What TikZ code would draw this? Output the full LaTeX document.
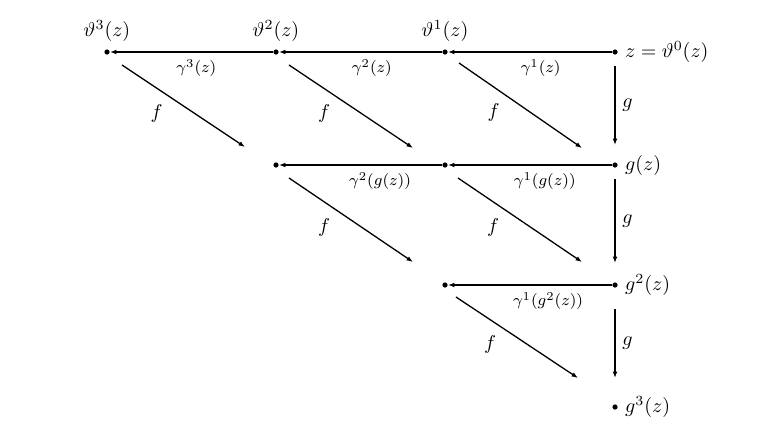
\documentclass[tikz,border=0pt]{standalone}
\usetikzlibrary{arrows.meta}
\begin{document}
\begin{tikzpicture}[x=0.5pt,y=-0.5pt,
  dot/.style={circle,fill=black,inner sep=0pt,minimum size=2.6pt},
  conn/.style={line width=0.65pt,-{Latex[length=3.2pt,width=2.4pt]}},
  glab/.style={font=\footnotesize,below},
  flab/.style={pos=0.5,xshift=-13.5pt,yshift=-3.5pt},
  vlab/.style={right,pos=0.5}]
\useasboundingbox (0,0) rectangle (763,436);
% dots
\node[dot,label={above:$\vartheta^3(z)$}] (a3) at (107,52) {};
\node[dot,label={above:$\vartheta^2(z)$}] (a2) at (276,52) {};
\node[dot,label={above:$\vartheta^1(z)$}] (a1) at (445,52) {};
\node[dot,label={right:$z=\vartheta^0(z)$}] (a0) at (615,52) {};
\node[dot] (b2) at (276,165) {};
\node[dot] (b1) at (445,165) {};
\node[dot,label={right:$g(z)$}] (b0) at (615,165) {};
\node[dot] (c1) at (445,285) {};
\node[dot,label={right:$g^2(z)$}] (c0) at (615,285) {};
\node[dot,label={right:$g^3(z)$}] (d0) at (615,407) {};
% horizontal
\draw[conn] (a0) -- node[glab,pos=0.435]{$\gamma^1(z)$} (a1);
\draw[conn] (a1) -- node[glab,pos=0.43]{$\gamma^2(z)$} (a2);
\draw[conn] (a2) -- node[glab,pos=0.47]{$\gamma^3(z)$} (a3);
\draw[conn] (b0) -- node[glab,pos=0.41]{$\gamma^1(g(z))$} (b1);
\draw[conn] (b1) -- node[glab,pos=0.38]{$\gamma^2(g(z))$} (b2);
\draw[conn] (c0) -- node[glab,pos=0.39]{$\gamma^1(g^2(z))$} (c1);
% vertical
\draw[conn] ([shift={(0,14)}]a0.center) -- node[vlab]{$g$} ([shift={(0,-20)}]b0.center);
\draw[conn] ([shift={(0,14)}]b0.center) -- node[vlab]{$g$} ([shift={(0,-22)}]c0.center);
\draw[conn] ([shift={(0,24)}]c0.center) -- node[vlab]{$g$} ([shift={(0,-29)}]d0.center);
% diagonals
\draw[conn] ([shift={(15,13)}]a3.center) -- node[flab]{$f$} ([shift={(-31,-18)}]b2.center);
\draw[conn] ([shift={(13,13)}]a2.center) -- node[flab]{$f$} ([shift={(-32,-17)}]b1.center);
\draw[conn] ([shift={(14,11)}]a1.center) -- node[flab]{$f$} ([shift={(-33,-17)}]b0.center);
\draw[conn] ([shift={(13,13)}]b2.center) -- node[flab]{$f$} ([shift={(-32,-23)}]c1.center);
\draw[conn] ([shift={(13,13)}]b1.center) -- node[flab]{$f$} ([shift={(-33,-23)}]c0.center);
\draw[conn] ([shift={(11,12)}]c1.center) -- node[flab]{$f$} ([shift={(-37,-29)}]d0.center);
\end{tikzpicture}
\end{document}
